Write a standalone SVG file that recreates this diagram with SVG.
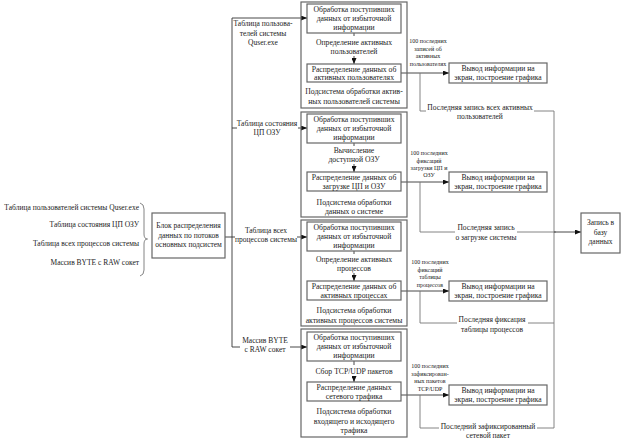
<svg xmlns="http://www.w3.org/2000/svg" width="624" height="440" viewBox="0 0 624 440">
<style>
text{font-family:"Liberation Serif","Times New Roman",serif;fill:#222;text-anchor:middle}
.t{font-size:7.7px}
.c{font-size:7.5px}
.o{font-size:7.6px}
.s{font-size:6px}
.l{font-size:7.5px;text-anchor:end}
.m{font-size:7.5px}
.box{fill:#fff;stroke:#666;stroke-width:1.2}
.outer{fill:none;stroke:#666;stroke-width:1.2}
.ln{fill:none;stroke:#333;stroke-width:0.9}
.gl{fill:none;stroke:#777;stroke-width:0.9}
.bg{fill:#fff}
</style>
<defs>
<marker id="arr" markerUnits="userSpaceOnUse" markerWidth="6" markerHeight="5" refX="6" refY="2.5" orient="auto">
<path d="M0,0 L6,2.5 L0,5 z" fill="#111"/>
</marker>
</defs>

<g id="connectors">
<path class="ln" d="M225,237 H232 M232,18 V347"/>
<path class="ln" marker-end="url(#arr)" d="M232,18 H307"/>
<path class="ln" marker-end="url(#arr)" d="M232,128 H307"/>
<path class="ln" marker-end="url(#arr)" d="M232,237 H307"/>
<path class="ln" marker-end="url(#arr)" d="M232,347 H307"/>
<path class="ln" d="M354,33 V36"/>
<path class="ln" marker-end="url(#arr)" d="M354,56 V64"/>
<path class="ln" d="M354,143 V146"/>
<path class="ln" marker-end="url(#arr)" d="M354,164 V172"/>
<path class="ln" d="M354,251 V254"/>
<path class="ln" marker-end="url(#arr)" d="M354,273 V281"/>
<path class="ln" d="M354,361 V365"/>
<path class="ln" marker-end="url(#arr)" d="M354,376 V382"/>
<path class="ln" marker-end="url(#arr)" d="M401,73 H449"/>
<path class="ln" marker-end="url(#arr)" d="M401,182 H449"/>
<path class="ln" marker-end="url(#arr)" d="M401,291 H449"/>
<path class="ln" marker-end="url(#arr)" d="M401,395 H449"/>
<path class="gl" d="M420,73 V111 H554 M420,291 V323 H554 M420,395 V428 H554 M554,111 V428"/>
<path class="gl" d="M420,182 V232 H556"/>
<path class="ln" marker-end="url(#arr)" d="M554,232 H581"/>
</g>

<g id="connector-labels">
<text class="c" x="263" y="26">Таблица пользова-</text>
<text class="c" x="263" y="35.5">телей системы</text>
<text class="c" x="263" y="45">Quser.exe</text>
<rect class="bg" x="237" y="117" width="61" height="20"/>
<text class="c" x="267" y="126">Таблица состояния</text>
<text class="c" x="267" y="135">ЦП ОЗУ</text>
<rect class="bg" x="235" y="225" width="62" height="19"/>
<text class="c" x="266" y="233">Таблица всех</text>
<text class="c" x="266" y="242">процессов системы</text>
<rect class="bg" x="240" y="335" width="50" height="18"/>
<text class="c" x="265" y="343">Массив BYTE</text>
<text class="c" x="265" y="352">с RAW сокет</text>

<text class="s" x="428" y="43">100 последних</text>
<text class="s" x="428" y="50.5">записей об</text>
<text class="s" x="428" y="58">активных</text>
<text class="s" x="428" y="65.5">пользователях</text>
<text class="s" x="429" y="155">100 последних</text>
<text class="s" x="429" y="162.5">фиксаций</text>
<text class="s" x="429" y="170">загрузки ЦП и</text>
<text class="s" x="429" y="177">ОЗУ</text>
<text class="s" x="430" y="264">100 последних</text>
<text class="s" x="430" y="271.5">фиксаций</text>
<text class="s" x="430" y="279">таблицы</text>
<text class="s" x="430" y="286.5">процессов</text>
<text class="s" x="430" y="368">100 последних</text>
<text class="s" x="430" y="375.5">зафиксирован-</text>
<text class="s" x="430" y="383">ных пакетов</text>
<text class="s" x="430" y="390.5">TCP/UDP</text>

<rect class="bg" x="426" y="102" width="108" height="19"/>
<text class="c" x="480" y="110">Последняя запись всех активных</text>
<text class="c" x="480" y="119">пользователей</text>
<rect class="bg" x="455" y="221" width="62" height="20"/>
<text class="c" x="486" y="230">Последняя запись</text>
<text class="c" x="486" y="240">о загрузке системы</text>
<rect class="bg" x="457" y="313" width="71" height="20"/>
<text class="c" x="492" y="322">Последняя фиксация</text>
<text class="c" x="492" y="332">таблицы процессов</text>
<rect class="bg" x="439" y="419" width="98" height="21"/>
<text class="c" x="488" y="428.5">Последний зафиксированный</text>
<text class="c" x="488" y="438">сетевой пакет</text>
</g>

<g id="inputs">
<text class="l" x="139" y="209.5">Таблица пользователей системы Quser.exe</text>
<text class="l" x="139" y="227">Таблица состояния ЦП ОЗУ</text>
<text class="l" x="139" y="245.5">Таблица всех процессов системы</text>
<text class="l" x="139" y="264.5">Массив BYTE с RAW сокет</text>
<path class="gl" d="M140,203 Q144,204 144,209 V234 Q144,239 147.5,239 Q144,239 144,244 V270 Q144,275 140,276"/>
</g>

<g id="dispatcher">
<rect class="box" x="152" y="213" width="73" height="45"/>
<text class="m" x="188.5" y="228">Блок распределения</text>
<text class="m" x="188.5" y="237.5">данных по потоков</text>
<text class="m" x="188.5" y="247">основных подсистем</text>
</g>

<g id="sub1">
<rect class="outer" x="301" y="2" width="106" height="106"/>
<rect class="box" x="307" y="4" width="94" height="29"/>
<text class="t" x="354" y="11.5">Обработка поступивших</text>
<text class="t" x="354" y="20.7">данных от избыточной</text>
<text class="t" x="354" y="30">информации</text>
<text class="t" x="354" y="44.5">Определение активных</text>
<text class="t" x="354" y="53.5">пользователей</text>
<rect class="box" x="307" y="64" width="94" height="18"/>
<text class="t" x="354" y="71.5">Распределение данных об</text>
<text class="t" x="354" y="80.3">активных пользователях</text>
<text class="t" x="354" y="93.5">Подсистема обработки актив-</text>
<text class="t" x="354" y="103.5">ных пользователей системы</text>
</g>

<g id="sub2">
<rect class="outer" x="301" y="112" width="106" height="105"/>
<rect class="box" x="307" y="114" width="94" height="29"/>
<text class="t" x="354" y="121.5">Обработка поступивших</text>
<text class="t" x="354" y="130.7">данных от избыточной</text>
<text class="t" x="354" y="140">информации</text>
<text class="t" x="354" y="153">Вычисление</text>
<text class="t" x="354" y="162">доступной ОЗУ</text>
<rect class="box" x="307" y="172" width="94" height="19"/>
<text class="t" x="354" y="179.8">Распределение данных об</text>
<text class="t" x="354" y="188.8">загрузке ЦП и ОЗУ</text>
<text class="t" x="354" y="204.5">Подсистема обработки</text>
<text class="t" x="354" y="214">данных о системе</text>
</g>

<g id="sub3">
<rect class="outer" x="301" y="220" width="106" height="106"/>
<rect class="box" x="307" y="222" width="94" height="29"/>
<text class="t" x="354" y="229.5">Обработка поступивших</text>
<text class="t" x="354" y="238.7">данных от избыточной</text>
<text class="t" x="354" y="248">информации</text>
<text class="t" x="354" y="262">Определение активных</text>
<text class="t" x="354" y="271">процессов</text>
<rect class="box" x="307" y="281" width="94" height="19"/>
<text class="t" x="354" y="288.8">Распределение данных об</text>
<text class="t" x="354" y="297.8">активных процессах</text>
<text class="t" x="354" y="313">Подсистема обработки</text>
<text class="t" x="354" y="323">активных процессов системы</text>
</g>

<g id="sub4">
<rect class="outer" x="301" y="329" width="106" height="108"/>
<rect class="box" x="307" y="332" width="94" height="29"/>
<text class="t" x="354" y="339.5">Обработка поступивших</text>
<text class="t" x="354" y="348.7">данных от избыточной</text>
<text class="t" x="354" y="358">информации</text>
<text class="t" x="354" y="373.5">Сбор TCP/UDP пакетов</text>
<rect class="box" x="307" y="382" width="94" height="19"/>
<text class="t" x="354" y="389.8">Распределение данных</text>
<text class="t" x="354" y="398.8">сетевого трафика</text>
<text class="t" x="354" y="413.5">Подсистема обработки</text>
<text class="t" x="354" y="423.5">входящего и исходящего</text>
<text class="t" x="354" y="433">трафика</text>
</g>

<g id="out1">
<rect class="box" x="449" y="63" width="98" height="20"/>
<text class="o" x="498" y="71">Вывод информации на</text>
<text class="o" x="498" y="80">экран, построение графика</text>
</g>
<g id="out2">
<rect class="box" x="449" y="172" width="98" height="20"/>
<text class="o" x="498" y="180">Вывод информации на</text>
<text class="o" x="498" y="189">экран, построение графика</text>
</g>
<g id="out3">
<rect class="box" x="449" y="281" width="98" height="20"/>
<text class="o" x="498" y="289">Вывод информации на</text>
<text class="o" x="498" y="298">экран, построение графика</text>
</g>
<g id="out4">
<rect class="box" x="449" y="385" width="98" height="20"/>
<text class="o" x="498" y="393">Вывод информации на</text>
<text class="o" x="498" y="402">экран, построение графика</text>
</g>

<g id="database">
<rect class="box" x="581" y="213" width="39" height="40"/>
<text class="m" x="600.5" y="225">Запись в</text>
<text class="m" x="600.5" y="235">базу</text>
<text class="m" x="600.5" y="244">данных</text>
</g>
</svg>
